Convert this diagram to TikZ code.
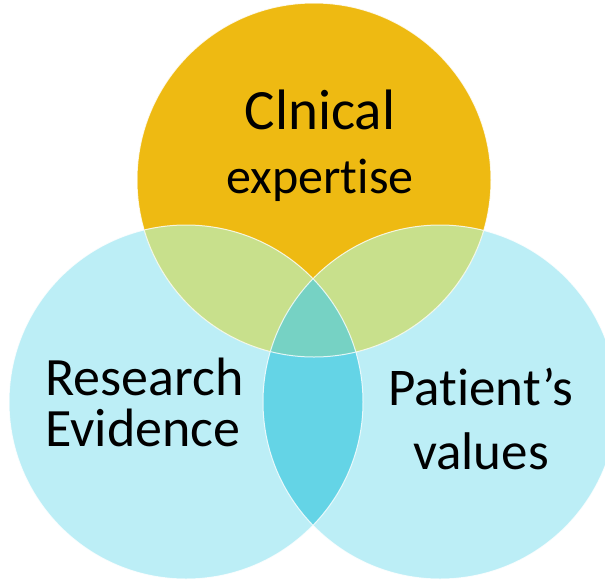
\documentclass[tikz,border=0pt]{standalone}
\usepackage{fontspec}
\setmainfont[RawFeature={-liga;-clig;-dlig;-calt}]{Carlito}
\usepackage{xcolor}
\definecolor{goldfill}{RGB}{238,186,18}
\definecolor{skyfill}{RGB}{188,238,246}
\definecolor{mixgreen}{RGB}{200,224,140}
\definecolor{lenscyan}{RGB}{100,212,230}
\definecolor{triteal}{RGB}{118,210,196}

\begin{document}
\begin{tikzpicture}[x=1pt,y=-1pt,
  vennlabel/.style={align=center,inner sep=0pt}]
\useasboundingbox (0,0) rectangle (605,579);
\clip (0,0) rectangle (605,579);
\coordinate (clin) at (314,180);
\coordinate (res) at (186,402);
\coordinate (pat) at (440,402);
% base circles
\fill[skyfill] (res) circle (177pt);
\fill[skyfill] (pat) circle (177pt);
\fill[goldfill] (clin) circle (177pt);
% overlaps
\begin{scope}
\clip (clin) circle (177pt);
\fill[mixgreen] (res) circle (177pt);
\fill[mixgreen] (pat) circle (177pt);
\end{scope}
\begin{scope}
\clip (res) circle (177pt);
\fill[lenscyan] (pat) circle (177pt);
\clip (clin) circle (177pt);
\fill[triteal] (pat) circle (177pt);
\end{scope}
\draw[white,line width=1pt,opacity=0.8] (clin) circle (177pt) (res) circle (177pt) (pat) circle (177pt);
% labels
\node[vennlabel,font=\fontsize{50}{64}\selectfont] (clinical) at (320,146) {{\fontsize{57}{64}\selectfont Clnical}\\expertise};
\node[vennlabel,align=left,anchor=west,font=\fontsize{54}{51}\selectfont] (research) at (45,402) {Research\\Evidence};
\node[vennlabel,font=\fontsize{53}{64}\selectfont] (patient) at (481,419) {Patient’s\\values};
\end{tikzpicture}
\end{document}
